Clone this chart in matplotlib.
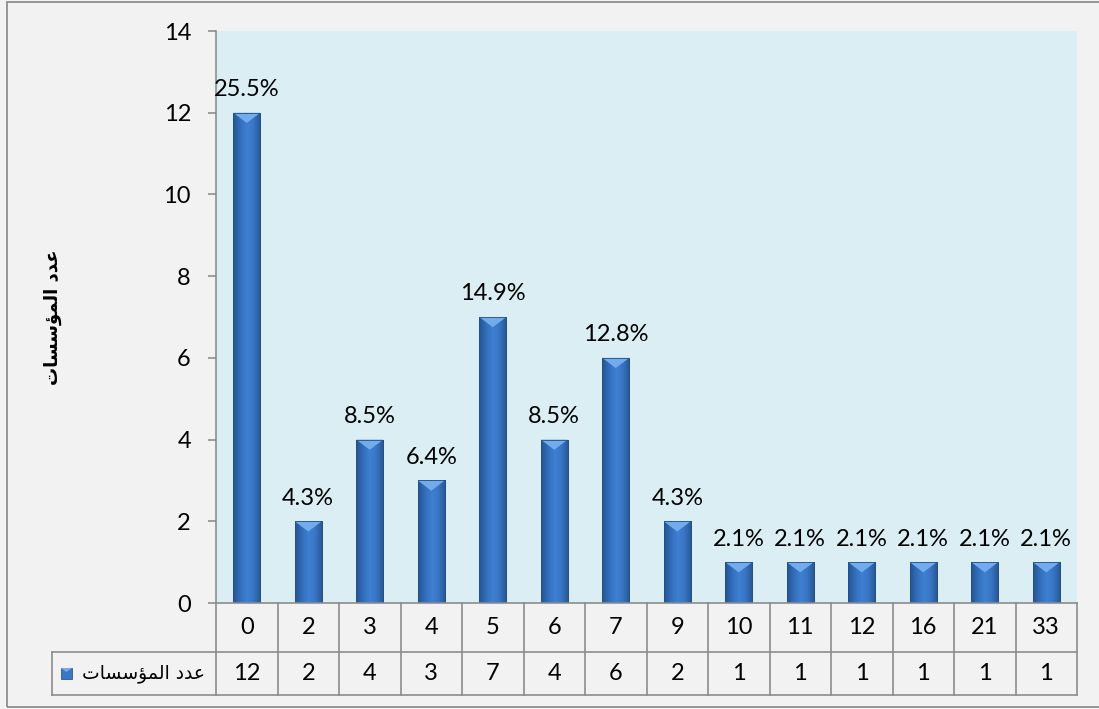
import numpy as np
import matplotlib
matplotlib.use('Agg')
import matplotlib.pyplot as plt
from matplotlib.colors import LinearSegmentedColormap
from matplotlib.patches import Rectangle, Polygon
from matplotlib.lines import Line2D
from matplotlib.transforms import blended_transform_factory

plt.rcParams['font.family'] = ['Lato', 'DejaVu Sans']

# number of years -> number of institutions
categories = ['0', '2', '3', '4', '5', '6', '7', '9', '10', '11', '12', '16', '21', '33']
counts = [12, 2, 4, 3, 7, 4, 6, 2, 1, 1, 1, 1, 1, 1]
pct_labels = ['25.5%', '4.3%', '8.5%', '6.4%', '14.9%', '8.5%', '12.8%', '4.3%',
              '2.1%', '2.1%', '2.1%', '2.1%', '2.1%', '2.1%']

# matplotlib does no Arabic shaping, so the series name is kept in
# presentation forms, already in visual (left-to-right) order
series_name = '\uFE95\uFE8E\uFEB4\uFEB3\uFE86\uFEE4\uFEDF\uFE8D \uFEA9\uFEAA\uFECB'

W, H = 1099, 709
def fx(x):
    return x / W
def fy(y):
    return 1 - y / H

fs = 17
fig = plt.figure(figsize=(W / 100, H / 100), dpi=100, facecolor='#F2F2F2')
ax = fig.add_axes([fx(216), fy(603), fx(1077) - fx(216), fy(31) - fy(603)])
ax.set_facecolor('#DAEEF3')

grid_col = '#8C8C8C'
x = np.arange(len(categories))
bars = ax.bar(x, counts, width=0.44, color='#3A76C4', linewidth=0, zorder=2)

# bevelled look: horizontal shading plus a light wedge on top
shade = LinearSegmentedColormap.from_list(
    'shade', ['#25548F', '#336EBB', '#3F80D2', '#3874C3', '#27568F'])
g = np.linspace(0, 1, 64).reshape(1, -1)
for rect in bars:
    x0, w, h = rect.get_x(), rect.get_width(), rect.get_height()
    im = ax.imshow(g, cmap=shade, extent=(x0, x0 + w, 0, h), aspect='auto',
                   interpolation='bicubic', zorder=2.1)
    im.set_clip_path(rect)
    d = 0.25
    ax.add_patch(Polygon([(x0, h), (x0 + w, h), (x0 + w / 2, h - d)], closed=True,
                         fc='#72ACEC', ec='none', zorder=2.2))
    ax.add_patch(Rectangle((x0, 0), w, h, fill=False, ec='#244F88', lw=0.6, zorder=2.3))

for xi, v, lbl in zip(x, counts, pct_labels):
    ax.annotate(lbl, (xi, v), xytext=(0, 9), textcoords='offset points',
                ha='center', va='bottom', fontsize=fs)

ax.set_xlim(-0.5, len(categories) - 0.5)
ax.set_ylim(0, 14)
ax.set_yticks(range(0, 15, 2))
ax.set_xticks([])
ax.tick_params(axis='y', direction='out', length=6, width=1.1, color='#868686',
               labelsize=fs, pad=12)
for s in ['top', 'right', 'bottom']:
    ax.spines[s].set_visible(False)
ax.spines['left'].set_color('#868686')
ax.spines['left'].set_linewidth(1.1)

# data table under the plot
tr = blended_transform_factory(ax.transData, fig.transFigure)
y0, y1, y2 = fy(603), fy(652), fy(695)
n = len(categories)
for yy in (y0, y1, y2):
    fig.add_artist(Line2D([-0.5, n - 0.5], [yy, yy], transform=tr, color=grid_col, lw=1.2))
for e in np.arange(n + 1) - 0.5:
    fig.add_artist(Line2D([e, e], [y0, y2], transform=tr, color=grid_col, lw=1.2))
for i in range(n):
    fig.text(i, (y0 + y1) / 2, categories[i], transform=tr, ha='center', va='center', fontsize=fs)
    fig.text(i, (y1 + y2) / 2, str(counts[i]), transform=tr, ha='center', va='center', fontsize=fs)

# legend cell on the left of the value row
for yy in (y1, y2):
    fig.add_artist(Line2D([fx(52), fx(216)], [yy, yy], color=grid_col, lw=1.2))
fig.add_artist(Line2D([fx(52), fx(52)], [y1, y2], color=grid_col, lw=1.2))
fig.add_artist(Rectangle((fx(61), fy(679)), fx(11), 11 / H, fc='#3A76C4', ec='#2A5A99', lw=0.6))
fig.add_artist(Polygon([(fx(61), fy(668)), (fx(72), fy(668)), (fx(66.5), fy(672))],
                       closed=True, fc='#72ACEC', ec='none'))
fig.text(fx(143), (y1 + y2) / 2, series_name, ha='center', va='center', fontsize=13.5,
         family='DejaVu Sans')

# axis title
fig.text(fx(53), fy(317), series_name, rotation=90, ha='center', va='center',
         fontsize=13, fontweight='bold', family='DejaVu Sans')

# chart border
fig.add_artist(Rectangle((fx(7), fy(707)), fx(1100), fy(2) - fy(707), fill=False,
                         ec='#868686', lw=1.2))

fig.savefig('out.png', dpi=100, facecolor=fig.get_facecolor())
